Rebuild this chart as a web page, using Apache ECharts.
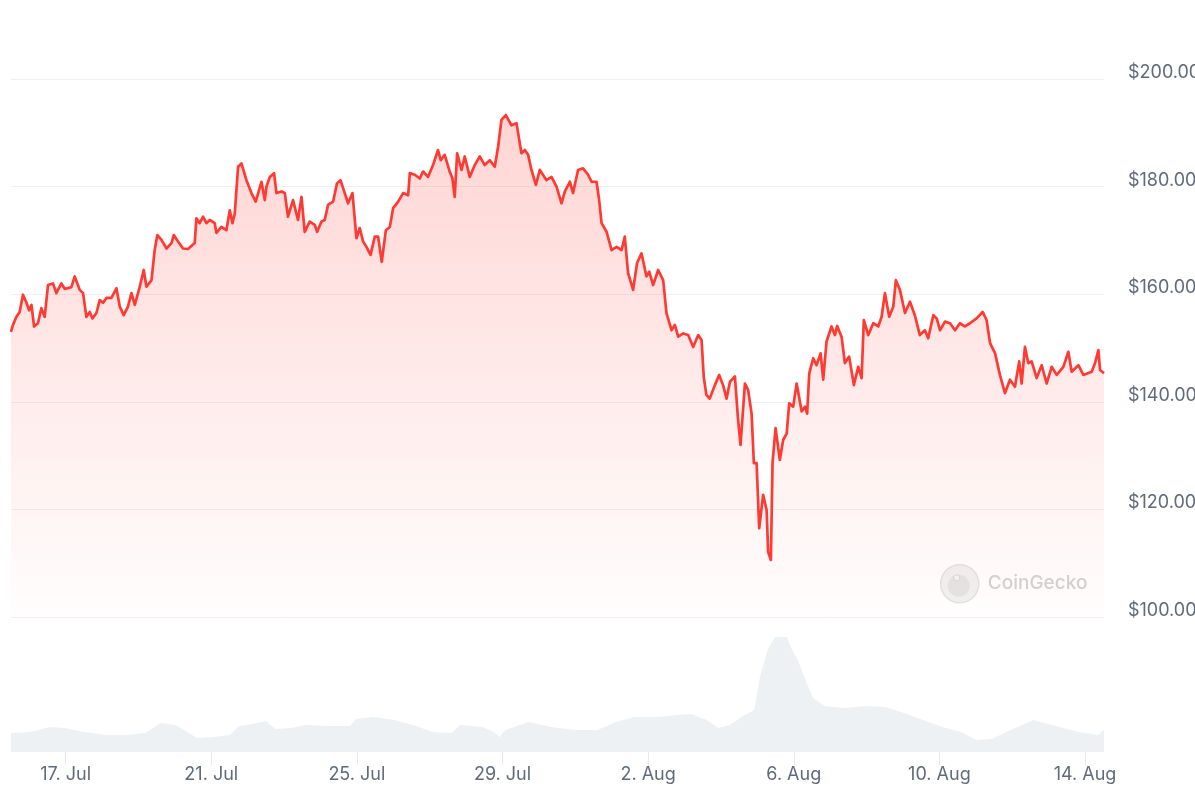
<!DOCTYPE html>
<html>
<head>
<meta charset="utf-8">
<script src="https://cdn.jsdelivr.net/npm/echarts@6/dist/echarts.min.js"></script>
<style>
html,body{margin:0;padding:0;background:#fff;}
#chart{width:1195px;height:799px;}
</style>
</head>
<body>
<div id="chart"></div>
<script>
// Data start: 15 Jul 2024 12:00 UTC; times in hours after start
const startDate = '2024-07-15T12:00:00Z';
const endHour = 720.5;

const priceHours = [0,1.3,3.6,5.7,7.9,10.2,11.9,13.5,15.2,17.8,20.0,22.2,24.4,27.7,29.9,33.2,35.4,39.8,42.0,45.3,47.5,49.7,51.9,53.7,56.3,58.5,60.7,62.9,66.2,69.5,71.7,74.3,77.1,79.4,81.6,84.9,87.5,89.3,92.6,94.7,96.5,99.2,102.5,105.8,107.3,110.1,113.4,116.7,121.1,122.2,124.4,126.6,128.8,131.0,134.3,135.4,138.7,142.0,144.2,146.0,147.5,149.7,151.9,155.2,158.5,161.3,165.1,167.3,168.4,170.6,173.4,175.0,178.3,180.5,182.6,185.9,189.2,191.5,193.6,196.9,200.2,201.8,204.7,206.8,209.0,212.3,214.9,217.2,220.0,222.2,225.1,227.7,229.9,232.1,234.3,237.0,239.8,242.0,244.4,247.1,249.7,251.9,255.2,258.5,261.8,262.9,266.2,269.5,271.6,274.9,278.2,281.5,283.3,285.9,289.2,291.0,292.5,294.1,297.0,299.1,302.4,305.7,309.0,312.3,315.6,318.9,321.1,323.3,326.2,329.9,333.2,336.5,338.7,340.9,343.1,346.0,348.6,353.0,356.3,359.6,362.9,365.1,368.4,370.5,373.8,377.1,380.4,382.7,386.0,387.7,389.3,392.6,395.9,399.2,402.5,404.6,406.8,410.1,412.7,415.6,418.9,420.7,423.3,426.6,429.9,432.1,435.4,437.6,439.8,443.1,446.4,449.7,453.0,455.2,456.7,458.4,460.6,464.0,466.8,469.4,471.7,473.9,477.2,479.3,480.9,483.8,485.9,488.2,489.7,491.5,493.2,495.8,498.1,499.1,500.9,502.0,504.0,506.8,509.0,511.3,513.0,515.6,517.9,521.2,523.4,524.8,526.2,528.8,531.0,533.7,535.4,537.6,540.9,543.1,544.6,547.5,549.7,552.5,555.6,558.5,560.7,562.2,565.1,568.4,571.7,573.9,576.1,578.9,581.6,583.3,586.0,589.3,592.6,595.8,599.1,602.4,604.6,608.0,610.2,612.4,615.7,619.0,622.3,625.5,628.8,632.1,636.5,640.5,643.1,645.4,648.7,651.9,655.2,658.5,661.8,664.6,666.2,668.4,670.6,672.8,676.1,679.4,682.7,686.0,689.3,693.7,697.0,699.2,703.6,706.9,712.4,714.6,716.8,717.9,720.5];

const prices = [153.0,154.3,155.8,156.7,159.9,158.4,157.0,158.0,154.0,154.6,157.4,155.8,161.7,162.0,160.2,162.0,161.0,161.3,163.3,160.8,160.2,155.8,156.7,155.5,156.5,158.9,158.4,159.3,159.3,161.1,157.7,156.1,157.7,160.2,158.0,161.4,164.5,161.4,162.6,168.2,171.0,170.1,168.5,169.5,171.0,169.8,168.5,168.4,169.5,174.1,173.2,174.4,173.2,173.8,173.2,171.4,172.5,171.9,175.6,173.2,175.0,183.7,184.3,181.2,178.8,177.2,180.9,177.5,180.0,181.8,182.5,178.8,179.1,178.8,174.4,177.5,173.8,178.1,171.6,173.5,172.9,171.6,173.5,173.8,176.6,177.2,180.6,181.2,178.8,176.9,178.8,170.4,172.3,169.8,168.8,167.3,170.7,170.7,166.0,171.9,172.5,176.0,177.2,178.8,178.4,182.5,182.2,181.5,182.8,181.8,184.0,186.8,184.9,185.9,182.8,181.5,178.1,186.2,183.1,185.6,181.8,184.0,185.6,184.0,184.9,183.7,187.4,192.4,193.3,191.4,191.8,186.2,186.8,185.9,183.1,180.3,183.1,181.2,181.8,180.0,176.9,179.1,180.9,178.8,183.1,183.4,182.2,180.9,180.9,177.5,173.2,171.6,168.2,168.8,168.2,170.7,163.9,160.8,165.8,167.6,163.3,164.2,161.7,164.5,162.6,156.5,153.3,154.3,152.1,152.7,152.4,150.2,152.4,151.5,144.5,141.3,140.6,143.1,145.0,143.1,140.6,143.7,144.7,136.6,132.0,143.4,142.2,137.8,128.6,128.6,116.5,122.7,119.9,112.1,110.6,128.6,135.1,129.2,132.9,134.1,139.7,139.1,143.4,138.2,139.1,137.8,145.3,148.1,146.8,149.0,144.1,151.2,154.0,152.4,154.1,152.1,147.2,148.4,143.1,146.5,144.4,155.2,152.4,154.6,154.0,155.8,160.2,155.8,157.7,162.6,160.8,156.5,158.6,156.1,152.4,153.3,151.8,156.1,155.5,153.3,154.9,154.6,153.3,154.6,154.0,154.6,155.5,156.7,155.2,150.9,149.0,145.0,141.6,144.1,142.8,147.5,143.4,150.2,147.2,147.5,144.4,146.8,143.4,146.5,145.0,146.5,149.3,145.6,146.8,145.0,145.6,147.2,149.6,145.9,145.3];

// 24h volume, billions USD
const volumeHours = [0,12.7,25.4,35.4,48.1,63.1,75.9,88.5,98.6,108.6,116.3,122.6,134.0,144.1,150.4,159.2,168.1,174.4,184.4,194.6,209.7,223.6,227.4,238.7,252.7,265.3,277.9,290.6,295.6,310.7,318.3,322.1,325.9,341.0,356.2,371.3,386.5,398.6,411.1,426.1,438.6,448.6,458.6,466.2,473.7,483.7,489.9,493.7,498.7,503.7,511.3,514.9,518.7,523.7,528.7,536.2,548.8,563.7,576.3,588.8,601.3,613.9,626.4,636.3,646.4,658.9,673.9,688.9,704.0,716.5,720.5];
const volumes = [1.9,2.0,2.5,2.4,2.0,1.7,1.7,1.9,2.9,2.7,2.0,1.4,1.5,1.7,2.6,2.8,3.1,2.3,2.4,2.7,2.6,2.6,3.3,3.5,3.2,2.7,2.0,1.9,2.7,2.5,2.0,1.5,2.2,3.0,2.5,2.2,2.2,3.0,3.5,3.5,3.7,3.8,3.2,2.4,2.7,3.7,4.2,7.5,10.2,11.5,11.5,10.2,9.2,7.2,5.4,4.6,4.4,4.6,4.5,3.9,3.2,2.5,2.0,1.2,1.3,2.2,3.2,2.6,2.0,1.7,2.2];

const tickDates = ['2024-07-17','2024-07-21','2024-07-25','2024-07-29','2024-08-02','2024-08-06','2024-08-10','2024-08-14'];
const monthNames = ['Jan','Feb','Mar','Apr','May','Jun','Jul','Aug','Sep','Oct','Nov','Dec'];

const priceMin = 100, priceMax = 200, priceStep = 20;
const volumeMax = 12;

const t0 = Date.parse(startDate);
const H = 3600e3;
const priceData = priceHours.map((h, i) => [h, prices[i]]);
const volumeData = volumeHours.map((h, i) => [h, volumes[i]]);
const tickValues = tickDates.map(d => (Date.parse(d + 'T00:00:00Z') - t0) / H);

const FONT = 'Inter, "Noto Sans", sans-serif';
const LABEL = '#5f6b7a';

function fmtHour(h) {
  const d = new Date(t0 + h * H);
  return d.getUTCDate() + '. ' + monthNames[d.getUTCMonth()];
}

const chart = echarts.init(document.getElementById('chart'), null, {renderer: 'canvas'});
chart.setOption({
  animation: false,
  backgroundColor: '#ffffff',
  grid: [
    {left: 11, right: 91, top: 79, height: 538, containLabel: false, outerBoundsMode: 'none'},
    {left: 11, right: 91, top: 632, bottom: 47, containLabel: false, outerBoundsMode: 'none'}
  ],
  xAxis: [
    {type: 'value', gridIndex: 0, min: 0, max: endHour,
     axisLine: {show: false}, axisTick: {show: false}, axisLabel: {show: false}, splitLine: {show: false}},
    {type: 'value', gridIndex: 1, min: 0, max: endHour,
     axisLine: {show: false},
     axisTick: {show: true, customValues: tickValues, length: 13, lineStyle: {color: '#e6e8eb', width: 1}},
     axisLabel: {show: true, customValues: tickValues, margin: 14, color: LABEL, fontSize: 18, fontFamily: FONT,
       formatter: v => fmtHour(v)},
     splitLine: {show: false}}
  ],
  yAxis: [
    {type: 'value', gridIndex: 0, position: 'right', min: priceMin, max: priceMax, interval: priceStep,
     axisLine: {show: false}, axisTick: {show: false},
     axisLabel: {margin: 24, color: LABEL, fontSize: 18, fontFamily: FONT, verticalAlign: 'bottom', lineHeight: 13,
       formatter: v => '$' + v.toFixed(2)},
     splitLine: {show: true, lineStyle: {color: '#eef0f2', width: 1}}},
    {type: 'value', gridIndex: 1, min: 0, max: volumeMax, show: false,
     axisLine: {show: false}, axisTick: {show: false}, axisLabel: {show: false}, splitLine: {show: false}}
  ],
  series: [
    {type: 'line', name: 'Volume', xAxisIndex: 1, yAxisIndex: 1, data: volumeData,
     showSymbol: false, lineStyle: {width: 0}, areaStyle: {color: '#eef1f4', opacity: 1}, z: 1},
    {type: 'line', name: 'Price', xAxisIndex: 0, yAxisIndex: 0, data: priceData,
     showSymbol: false, lineStyle: {color: '#ff3a33', width: 2.7, join: 'round'},
     areaStyle: {color: new echarts.graphic.LinearGradient(0, 0, 0, 1, [
       {offset: 0, color: 'rgba(255,58,51,0.30)'},
       {offset: 0.6, color: 'rgba(255,58,51,0.13)'},
       {offset: 1, color: 'rgba(255,58,51,0.01)'}
     ])}, z: 3}
  ],
  graphic: [
    {type: 'group', left: 940, top: 564, z: 10, silent: true, children: [
      {type: 'circle', shape: {cx: 20, cy: 20, r: 19}, style: {fill: '#f1f1f1', stroke: '#e2e2e2', lineWidth: 1.5}},
      {type: 'circle', shape: {cx: 19, cy: 22, r: 11}, style: {fill: '#e4e4e4'}},
      {type: 'circle', shape: {cx: 17, cy: 14, r: 3}, style: {fill: '#f6f6f6', stroke: '#d8d8d8', lineWidth: 1}},
      {type: 'text', x: 48, y: 20, style: {text: 'CoinGecko', fill: '#d3d3d3', font: '500 19px ' + FONT, verticalAlign: 'middle'}}
    ]}
  ]
});
</script>
</body>
</html>
